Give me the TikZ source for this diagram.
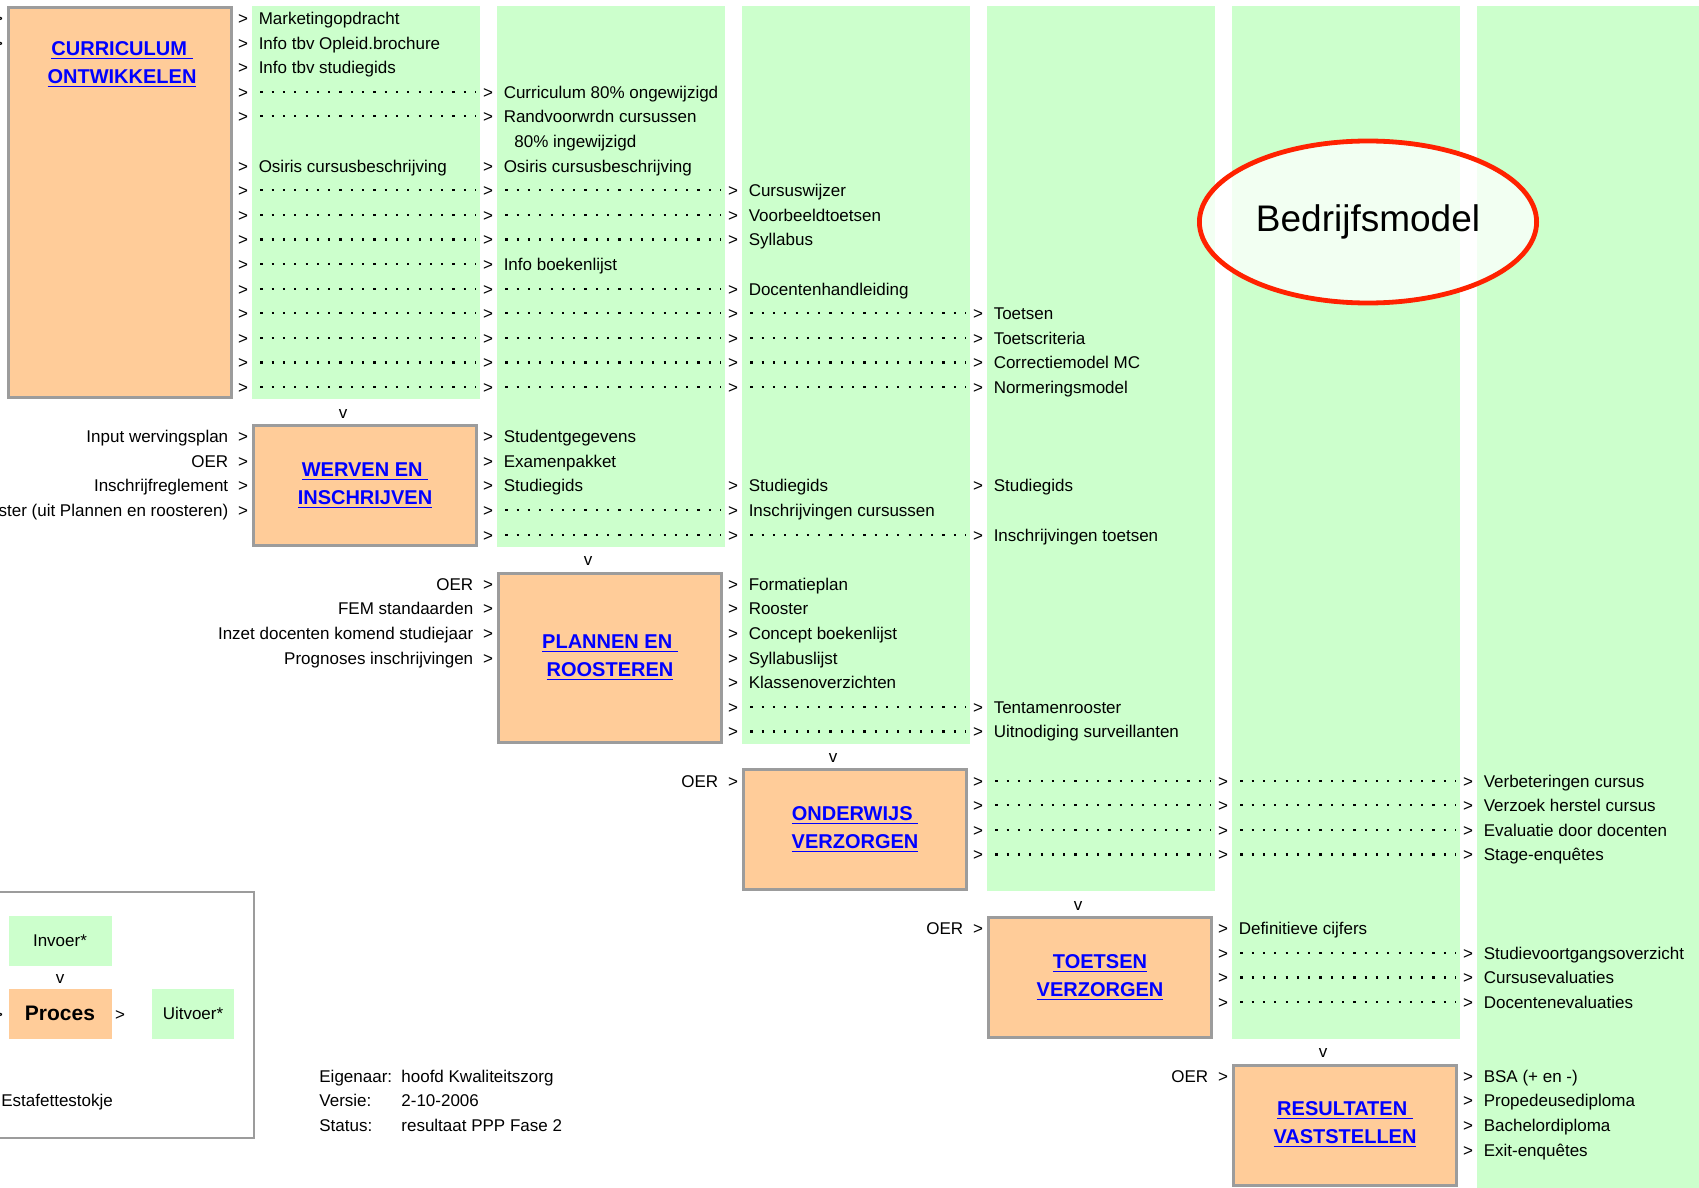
\documentclass[tikz,border=0pt]{standalone}
\usepackage{fontspec}
\setmainfont{Liberation Sans}
\usetikzlibrary{positioning,shapes.geometric}

\definecolor{groen}{HTML}{CCFFCC}
\definecolor{oranje}{HTML}{FFCC99}
\definecolor{rand}{HTML}{9C9C9C}
\definecolor{link}{HTML}{0000FF}
\definecolor{rood}{HTML}{FF2200}

% rij r: midden op y = 18+24.6*r, kolom k: links op x = 245*k+7 (px)
\newcommand{\pijl}[2]{\node[lbl] (p#1-#2) at ({245*#1-2},{18+24.6*#2}) {>};}
\newcommand{\rij}[4]{%
  \foreach \k in {#2,...,#3} {\pijl{\k}{#1}}%
  \foreach \k in {#2,...,#3} {%
    \pgfmathtruncatemacro{\kn}{\k+1}%
    \ifnum\k<#3 \draw[stip] (p\k-#1) -- (p\kn-#1);\fi}%
  \node[lbl, right=5pt of p#3-#1] (t#3-#1) {#4};}
\newcommand{\invoer}[3]{\pijl{#1}{#2}\node[lbl, left=4.5pt of p#1-#2] (i#1-#2) {#3};}
\newcommand{\proc}[5]{%
  \pgfmathsetmacro{\hh}{(24.6*(#3-#2+1)-3)/2}%
  \node[proces, minimum height=\hh pt] (#4) at ({245*#1+120},{5.7+24.6*(#2+#3+1)/2}) {#5};}
\newcommand{\pv}[2]{\node[lbl] (v#1) at ({245*#1+98},{18+24.6*#2}) {v};}

\begin{document}
\begin{tikzpicture}[x=0.5pt, y=-0.5pt,
    lbl/.style={inner sep=0pt, text height=8pt, text depth=1.5pt, font=\fontsize{8.5}{10}\selectfont},
    stip/.style={line width=1.1pt, dash pattern=on 1.1pt off 4.55pt, shorten <=6pt, shorten >=3.5pt, black},
    titel/.style={text=link, font=\fontsize{10}{14}\selectfont\bfseries, align=center},
    proces/.style={titel, draw=rand, line width=1.5pt, fill=oranje, minimum width=111.5pt},
    bedrijf/.style={ellipse, draw=rood, line width=2.4pt, fill=white, fill opacity=0.75, text opacity=1,
        minimum width=168.6pt, minimum height=81pt, font=\fontsize{18.5}{22}\selectfont},
    vak/.style={inner sep=0pt, minimum width=51.5pt, minimum height=25pt, font=\fontsize{8.5}{10}\selectfont}]
    \useasboundingbox (0,0) rectangle (1699,1188);

    % Kolommen.
    \foreach \k/\onder in {1/399.3, 2/546.9, 3/743.7, 4/891.3, 5/1038.9, 6/1188}
        \fill[groen] ({245*\k+7},5.7) rectangle ({245*\k+235},\onder);

    % Bedrijfsmodel.
    \node[bedrijf] (bm) at (1368,222) {Bedrijfsmodel};

    %Curriculum ontwikkelen
    \proc{0}{0}{15}{curr}{}
    \node[titel] (currtekst) at (122,65) {\underline{CURRICULUM\ }\\\underline{ONTWIKKELEN}};
    \pijl{0}{0} \pijl{0}{1}
    \rij{0}{1}{1}{Marketingopdracht}
    \rij{1}{1}{1}{Info tbv Opleid.brochure}
    \rij{2}{1}{1}{Info tbv studiegids}
    \rij{3}{1}{2}{Curriculum 80\% ongewijzigd}
    \rij{4}{1}{2}{Randvoorwrdn cursussen}
    \node[lbl, anchor=west] (t2-5) at (514,{18+24.6*5}) {80\% ingewijzigd};
    \rij{6}{1}{1}{Osiris cursusbeschrijving}
    \rij{6}{2}{2}{Osiris cursusbeschrijving}
    \rij{7}{1}{3}{Cursuswijzer}
    \rij{8}{1}{3}{Voorbeeldtoetsen}
    \rij{9}{1}{3}{Syllabus}
    \rij{10}{1}{2}{Info boekenlijst}
    \rij{11}{1}{3}{Docentenhandleiding}
    \rij{12}{1}{4}{Toetsen}
    \rij{13}{1}{4}{Toetscriteria}
    \rij{14}{1}{4}{Correctiemodel MC}
    \rij{15}{1}{4}{Normeringsmodel}

    %Werven en inschrijven
    \pv{1}{16}
    \proc{1}{17}{21}{werv}{\underline{WERVEN EN\ }\\\underline{INSCHRIJVEN}}
    \invoer{1}{17}{Input wervingsplan}
    \invoer{1}{18}{OER}
    \invoer{1}{19}{Inschrijfreglement}
    \invoer{1}{20}{ster (uit Plannen en roosteren)}
    \rij{17}{2}{2}{Studentgegevens}
    \rij{18}{2}{2}{Examenpakket}
    \rij{19}{2}{2}{Studiegids}
    \rij{19}{3}{3}{Studiegids}
    \rij{19}{4}{4}{Studiegids}
    \rij{20}{2}{3}{Inschrijvingen cursussen}
    \rij{21}{2}{4}{Inschrijvingen toetsen}

    %Plannen en roosteren
    \pv{2}{22}
    \proc{2}{23}{29}{plan}{\underline{PLANNEN EN\ }\\\underline{ROOSTEREN}}
    \invoer{2}{23}{OER}
    \invoer{2}{24}{FEM standaarden}
    \invoer{2}{25}{Inzet docenten komend studiejaar}
    \invoer{2}{26}{Prognoses inschrijvingen}
    \rij{23}{3}{3}{Formatieplan}
    \rij{24}{3}{3}{Rooster}
    \rij{25}{3}{3}{Concept boekenlijst}
    \rij{26}{3}{3}{Syllabuslijst}
    \rij{27}{3}{3}{Klassenoverzichten}
    \rij{28}{3}{4}{Tentamenrooster}
    \rij{29}{3}{4}{Uitnodiging surveillanten}

    %Onderwijs verzorgen
    \pv{3}{30}
    \proc{3}{31}{35}{ondw}{\underline{ONDERWIJS\ }\\\underline{VERZORGEN}}
    \invoer{3}{31}{OER}
    \rij{31}{4}{6}{Verbeteringen cursus}
    \rij{32}{4}{6}{Verzoek herstel cursus}
    \rij{33}{4}{6}{Evaluatie door docenten}
    \rij{34}{4}{6}{Stage-enquêtes}

    %Toetsen verzorgen
    \pv{4}{36}
    \proc{4}{37}{41}{toets}{\underline{TOETSEN}\\\underline{VERZORGEN}}
    \invoer{4}{37}{OER}
    \rij{37}{5}{5}{Definitieve cijfers}
    \rij{38}{5}{6}{Studievoortgangsoverzicht}
    \rij{39}{5}{6}{Cursusevaluaties}
    \rij{40}{5}{6}{Docentenevaluaties}

    %Resultaten vaststellen
    \pv{5}{42}
    \proc{5}{43}{47}{res}{\underline{RESULTATEN\ }\\\underline{VASTSTELLEN}}
    \invoer{5}{43}{OER}
    \rij{43}{6}{6}{BSA (+ en -)}
    \rij{44}{6}{6}{Propedeusediploma}
    \rij{45}{6}{6}{Bachelordiploma}
    \rij{46}{6}{6}{Exit-enquêtes}

    % Legenda.
    \draw[draw=rand, line width=1pt] (-20,891.7) rectangle (253.5,1137.7);
    \node[vak, fill=groen] (invoer) at (60,940.5) {Invoer*};
    \node[lbl] (vl) at (60,{18+24.6*39}) {v};
    \node[vak, fill=oranje, font=\fontsize{10.5}{12}\selectfont\bfseries] (procl) at (60,1013.7) {Proces};
    \node[lbl] (pl0) at (-2,1013.7) {>};
    \node[lbl] (pl) at (120,1013.7) {>};
    \node[vak, fill=groen, minimum width=41pt] (uitvoer) at (193,1013.7) {Uitvoer*};
    \node[lbl, anchor=west] (estaf) at (1,{18+24.6*44}) {Estafettestokje};

    % Eigenaar.
    \node[lbl, anchor=west] (eig) at (319,{18+24.6*43}) {Eigenaar:};
    \node[lbl, anchor=west] (eigw) at (401,{18+24.6*43}) {hoofd Kwaliteitszorg};
    \node[lbl, anchor=west] (vers) at (319,{18+24.6*44}) {Versie:};
    \node[lbl, anchor=west] (versw) at (401,{18+24.6*44}) {2-10-2006};
    \node[lbl, anchor=west] (stat) at (319,{18+24.6*45}) {Status:};
    \node[lbl, anchor=west] (statw) at (401,{18+24.6*45}) {resultaat PPP Fase 2};
\end{tikzpicture}
\end{document}
